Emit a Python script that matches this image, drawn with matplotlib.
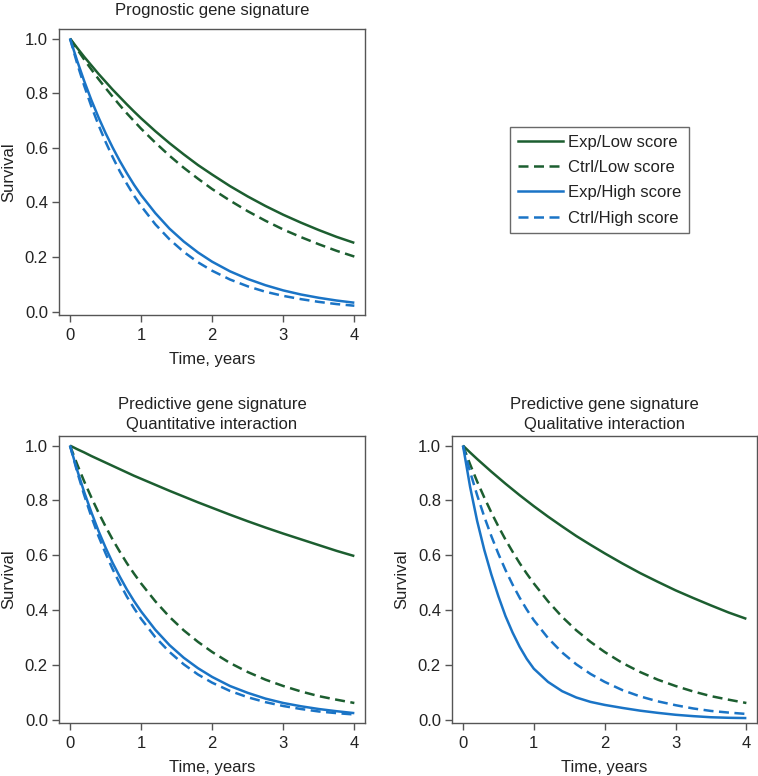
import matplotlib
matplotlib.use("Agg")
import matplotlib.pyplot as plt
from matplotlib.lines import Line2D

plt.rcParams['font.family'] = ['Liberation Sans', 'DejaVu Sans']

# Time grid (years)
time = [0, 0.1, 0.2, 0.3, 0.4, 0.5, 0.6, 0.7, 0.8, 0.9, 1.0, 1.2, 1.4, 1.6, 1.8, 2.0,
        2.25, 2.5, 2.75, 3.0, 3.25, 3.5, 3.75, 4.0]

# Panel 1: Prognostic gene signature
p1_exp_low = [1, 0.966, 0.933, 0.902, 0.871, 0.842, 0.813, 0.786, 0.759, 0.733, 0.708, 0.661, 0.617, 0.576, 0.537, 0.502,
              0.460, 0.422, 0.387, 0.355, 0.326, 0.299, 0.274, 0.252]
p1_ctrl_low = [1, 0.961, 0.923, 0.887, 0.852, 0.819, 0.787, 0.756, 0.726, 0.698, 0.670, 0.619, 0.571, 0.527, 0.487, 0.449,
               0.407, 0.368, 0.333, 0.301, 0.273, 0.247, 0.223, 0.202]
p1_exp_high = [1, 0.919, 0.844, 0.775, 0.712, 0.654, 0.601, 0.552, 0.507, 0.465, 0.427, 0.361, 0.304, 0.257, 0.217, 0.183,
               0.148, 0.120, 0.097, 0.078, 0.063, 0.051, 0.041, 0.033]
p1_ctrl_high = [1, 0.909, 0.827, 0.752, 0.684, 0.622, 0.566, 0.514, 0.468, 0.425, 0.387, 0.320, 0.265, 0.219, 0.181, 0.150,
                0.118, 0.093, 0.073, 0.058, 0.046, 0.036, 0.028, 0.022]

# Panel 2: Predictive, quantitative interaction
p2_exp_low = [1, 0.987, 0.975, 0.962, 0.950, 0.938, 0.926, 0.914, 0.902, 0.890, 0.879, 0.857, 0.835, 0.814, 0.793, 0.773,
              0.748, 0.724, 0.701, 0.679, 0.658, 0.637, 0.616, 0.597]
p2_ctrl_low = [1, 0.932, 0.869, 0.811, 0.756, 0.705, 0.657, 0.613, 0.571, 0.533, 0.497, 0.432, 0.375, 0.326, 0.284, 0.247,
               0.207, 0.174, 0.146, 0.123, 0.103, 0.086, 0.073, 0.061]
p2_exp_high = [1, 0.911, 0.830, 0.757, 0.689, 0.628, 0.572, 0.522, 0.475, 0.433, 0.395, 0.328, 0.272, 0.226, 0.188, 0.156,
               0.123, 0.098, 0.077, 0.061, 0.049, 0.039, 0.031, 0.024]
p2_ctrl_high = [1, 0.905, 0.819, 0.741, 0.670, 0.607, 0.549, 0.497, 0.449, 0.407, 0.368, 0.301, 0.247, 0.202, 0.165, 0.135,
                0.105, 0.082, 0.064, 0.050, 0.039, 0.030, 0.024, 0.019]

# Panel 3: Predictive, qualitative interaction
p3_exp_low = [1, 0.975, 0.951, 0.928, 0.905, 0.883, 0.861, 0.840, 0.819, 0.799, 0.779, 0.741, 0.705, 0.670, 0.638, 0.607,
              0.570, 0.535, 0.503, 0.472, 0.444, 0.417, 0.391, 0.368]
p3_ctrl_low = [1, 0.932, 0.869, 0.811, 0.756, 0.705, 0.657, 0.613, 0.571, 0.533, 0.497, 0.432, 0.375, 0.326, 0.284, 0.247,
               0.207, 0.174, 0.146, 0.123, 0.103, 0.086, 0.073, 0.061]
p3_exp_high = [1, 0.850, 0.725, 0.620, 0.530, 0.450, 0.378, 0.318, 0.266, 0.222, 0.186, 0.138, 0.104, 0.081, 0.065, 0.054,
               0.043, 0.033, 0.025, 0.018, 0.013, 0.009, 0.007, 0.006]
p3_ctrl_high = [1, 0.905, 0.819, 0.741, 0.670, 0.605, 0.546, 0.493, 0.445, 0.402, 0.363, 0.298, 0.245, 0.202, 0.167, 0.138,
                0.108, 0.085, 0.067, 0.053, 0.041, 0.032, 0.026, 0.021]

labels = ["Exp/Low score", "Ctrl/Low score", "Exp/High score", "Ctrl/High score"]
titles = ["Prognostic gene signature",
          "Predictive gene signature\nQuantitative interaction",
          "Predictive gene signature\nQualitative interaction"]
xticks = [0, 1, 2, 3, 4]
yticks = [0.0, 0.2, 0.4, 0.6, 0.8, 1.0]

GREEN = "#1c5e30"
BLUE = "#1a74c6"
styles = [(GREEN, "-"), (GREEN, "--"), (BLUE, "-"), (BLUE, "--")]
FS = 12
TXT = "#222222"

W, H = 758, 776
fig = plt.figure(figsize=(W / 100, H / 100), dpi=100)

def box(l, t, r, b):
    return [l / W, 1 - b / H, (r - l) / W, (b - t) / H]

panels = [
    (box(59, 29, 365, 315), titles[0], [p1_exp_low, p1_ctrl_low, p1_exp_high, p1_ctrl_high], 10),
    (box(59, 436, 365, 723), titles[1], [p2_exp_low, p2_ctrl_low, p2_exp_high, p2_ctrl_high], 5),
    (box(452, 436, 757, 723), titles[2], [p3_exp_low, p3_ctrl_low, p3_exp_high, p3_ctrl_high], 5),
]

SPINE = "#555555"
for rect, title, series, tpad in panels:
    ax = fig.add_axes(rect)
    for (c, ls), ys in zip(styles, series):
        line, = ax.plot(time, ys, color=c, lw=1.8, solid_capstyle='butt')
        if ls == "--":
            line.set_dashes((4, 2.2))
    ax.set_xlim(-0.155, 4.15)
    ax.set_ylim(-0.012, 1.035)
    ax.set_xticks(xticks)
    ax.set_xticklabels([str(v) for v in xticks])
    ax.set_yticks(yticks)
    ax.set_yticklabels([f"{v:.1f}" for v in yticks])
    ax.tick_params(direction='out', length=5, width=1.0, color=SPINE,
                   labelsize=FS, labelcolor=TXT, pad=3)
    ax.tick_params(axis='x', pad=4)
    for s in ax.spines.values():
        s.set_color(SPINE)
        s.set_linewidth(1.0)
    ax.set_xlabel("Time, years", fontsize=FS, color=TXT, labelpad=6.5)
    ax.set_ylabel("Survival", fontsize=FS, color=TXT, labelpad=6)
    ax.set_title(title, fontsize=FS, color=TXT, pad=tpad, linespacing=1.38)

handles = []
for (c, ls), lab in zip(styles, labels):
    h = Line2D([0], [0], color=c, lw=1.8)
    if ls == "--":
        h.set_dashes((4, 2.2))
    handles.append(h)
leg = fig.legend(handles, labels, loc='upper left',
                 bbox_to_anchor=(510 / W, 1 - 127 / H), bbox_transform=fig.transFigure,
                 borderaxespad=0, frameon=True, fancybox=False, fontsize=FS,
                 handlelength=2.7, handletextpad=0.35, labelspacing=0.62,
                 borderpad=0.45)
leg.get_frame().set_edgecolor("#444444")
leg.get_frame().set_linewidth(1.0)
for t in leg.get_texts():
    t.set_color(TXT)

fig.savefig("out.png", dpi=100)
